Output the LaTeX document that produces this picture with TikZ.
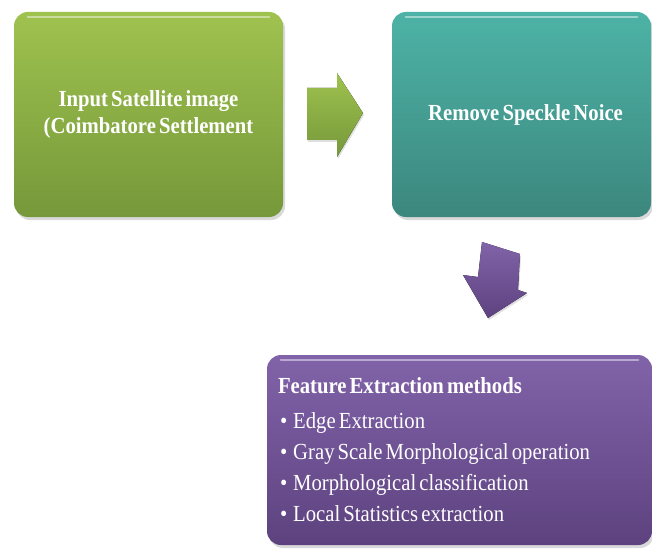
\documentclass[tikz,border=0pt]{standalone}
\usepackage{fontspec}
\setmainfont{Liberation Serif}[FakeStretch=0.9,WordSpace=0.6]
\usetikzlibrary{shadows}
\definecolor{olivetop}{HTML}{9FC24F}
\definecolor{olivebot}{HTML}{76983A}
\definecolor{tealtop}{HTML}{4DB3A6}
\definecolor{tealbot}{HTML}{3C877E}
\definecolor{plumtop}{HTML}{8163A9}
\definecolor{plumbot}{HTML}{5D427F}
\tikzset{
  box/.style={rounded corners=14pt,text=white,
    drop shadow={opacity=0.3,shadow xshift=2pt,shadow yshift=-3pt}},
  gloss/.style={white,opacity=0.45,line width=2.5pt,line cap=round},
  blockarrow/.style={drop shadow={opacity=0.25,shadow xshift=1pt,shadow yshift=-2pt}}
}
\begin{document}
\begin{tikzpicture}[x=1pt,y=-1pt]
\useasboundingbox (0,0) rectangle (652,548);
\fontsize{23}{31}\selectfont
% input box
\node [box,top color=olivetop,bottom color=olivebot,minimum width=269pt,minimum height=205pt,
  align=center,font=\bfseries] (input) at (148.5,114.5)
  {Input Satellite image\\[-4pt](Coimbatore Settlement};
\draw [gloss] ([xshift=14pt,yshift=-5pt]input.north west) -- ([xshift=-14pt,yshift=-5pt]input.north east);
% speckle box
\node [box,top color=tealtop,bottom color=tealbot,minimum width=259pt,minimum height=205pt,
  font=\bfseries] (speckle) at (521.5,114.5) {\hspace*{8pt}Remove Speckle Noice};
\draw [gloss] ([xshift=14pt,yshift=-5pt]speckle.north west) -- ([xshift=-14pt,yshift=-5pt]speckle.north east);
% feature box
\node [box,top color=plumtop,bottom color=plumbot,minimum width=385pt,minimum height=190pt,
  text width=363pt,align=left] (feature) at (459.5,450)
  {\spaceskip=0pt\xspaceskip=0pt\relax
   {\bfseries Feature Extraction methods}\\[4pt]
   \hspace*{2pt}\textbullet\hspace{6pt}Edge Extraction\\
   \hspace*{2pt}\textbullet\hspace{6pt}Gray Scale Morphological operation\\
   \hspace*{2pt}\textbullet\hspace{6pt}Morphological classification\\
   \hspace*{2pt}\textbullet\hspace{6pt}Local Statistics extraction};
\draw [gloss] ([xshift=14pt,yshift=-5pt]feature.north west) -- ([xshift=-14pt,yshift=-5pt]feature.north east);
% arrows
\fill [blockarrow,top color=olivetop,bottom color=olivebot]
  (307,88) -- (337,88) -- (337,73) -- (363,113) -- (337,157) -- (337,140) -- (307,140) -- cycle;
\fill [blockarrow,top color=plumtop,bottom color=plumbot]
  (482,242) -- (520,254) -- (518,290) -- (527,293) -- (488,318) -- (463,275) -- (478,277) -- cycle;
\end{tikzpicture}
\end{document}
